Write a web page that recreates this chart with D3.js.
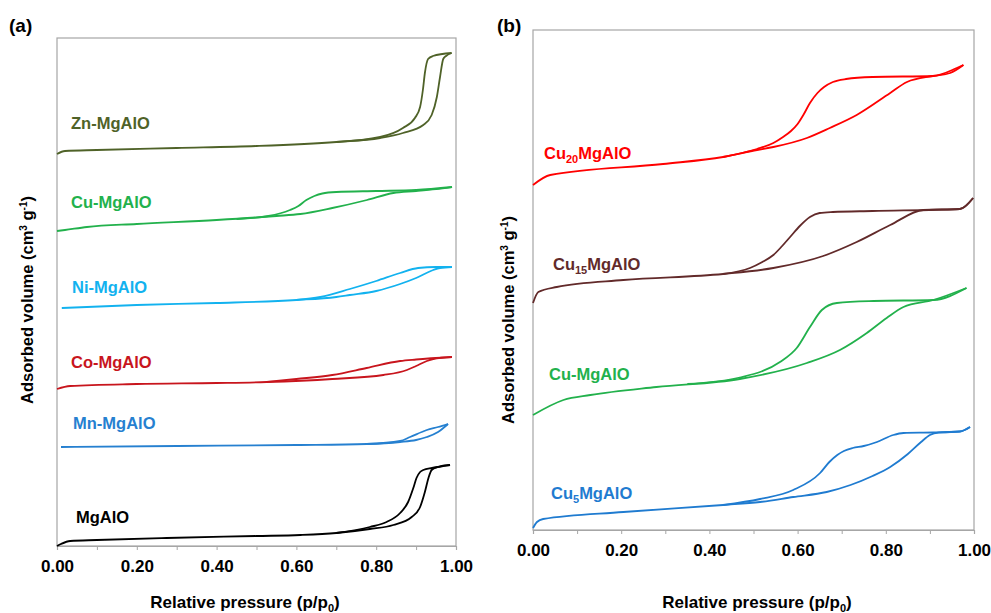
<!DOCTYPE html>
<html>
<head>
<meta charset="utf-8">
<script src="https://cdn.jsdelivr.net/npm/d3@7"></script>
<style>
	body { margin: 0; background: #fff; }
	text { font-family: "Liberation Sans", Arial, sans-serif; font-weight: bold; }
</style>
</head>
<body>
<div id="chart"></div>
<script>
// Tick values shared by both panels (relative pressure p/p0)
var pressureTicks = [0, 0.1, 0.2, 0.3, 0.4, 0.5, 0.6, 0.7, 0.8, 0.9, 1.0];
var pressureLabels = ['0.00', '', '0.20', '', '0.40', '', '0.60', '', '0.80', '', '1.00'];

// Panel (a): isotherms, [p/p0, adsorbed volume (arbitrary offset units)]
var znAds = [[0, 392], [0.02, 395], [0.1, 396], [0.3, 398], [0.5, 400], [0.7, 404], [0.81, 408], [0.867, 413], [0.918, 421], [0.939, 431], [0.952, 449], [0.96, 469], [0.968, 487], [0.975, 490], [0.989, 493]];
var znDes = [[0.7, 404], [0.81, 409], [0.867, 418], [0.897, 428], [0.91, 439], [0.917, 456], [0.922, 473], [0.93, 487], [0.942, 490], [0.989, 493]];
var cuAdsA = [[0, 315], [0.02, 316], [0.075, 319], [0.2, 322], [0.4, 326], [0.55, 330], [0.61, 332], [0.69, 338], [0.777, 346], [0.843, 353], [0.9, 355], [0.95, 357], [0.99, 359]];
var cuDesA = [[0.45, 327], [0.53, 330], [0.584, 336], [0.605, 340], [0.625, 346], [0.645, 350], [0.665, 352.5], [0.7, 354], [0.8, 355], [0.9, 356], [0.99, 359]];
var niAds = [[0.012, 238], [0.2, 241], [0.4, 243], [0.6, 246], [0.7, 249], [0.734, 251], [0.8, 255], [0.86, 262], [0.9, 268], [0.943, 276], [0.96, 278], [0.99, 279]];
var niDes = [[0.6, 246], [0.66, 249], [0.734, 257], [0.8, 265], [0.86, 273], [0.905, 278], [0.95, 279], [0.99, 279]];
var coAds = [[0, 157], [0.033, 160], [0.2, 162], [0.4, 163], [0.525, 164], [0.69, 167], [0.818, 171], [0.877, 176], [0.9, 180], [0.927, 185], [0.943, 187], [0.99, 189]];
var coDes = [[0.525, 164], [0.6, 167], [0.69, 171], [0.776, 178], [0.86, 185], [0.9, 186.5], [0.99, 189]];
var mnAds = [[0.01, 99], [0.3, 100], [0.6, 101], [0.776, 102], [0.86, 104], [0.9, 106], [0.927, 109], [0.955, 114], [0.98, 122]];
var mnDes = [[0.776, 102], [0.86, 105], [0.885, 109], [0.927, 116], [0.955, 119], [0.98, 122]];
var mgAds = [[0, 0], [0.01, 2], [0.033, 5], [0.1, 6], [0.275, 8], [0.5, 10], [0.61, 11], [0.7, 13], [0.784, 17], [0.843, 21], [0.889, 29], [0.91, 39], [0.922, 54], [0.931, 68], [0.939, 76], [0.955, 79], [0.985, 81]];
var mgDes = [[0.7, 13], [0.784, 19], [0.826, 24], [0.86, 33], [0.88, 44], [0.893, 58], [0.901, 68], [0.91, 74], [0.918, 76], [0.94, 78], [0.985, 81]];

// Panel (b)
var cu20Ads = [[0, 345], [0.039, 355], [0.295, 366], [0.431, 373], [0.508, 380], [0.545, 383], [0.621, 392], [0.673, 402], [0.734, 415], [0.81, 437], [0.848, 448], [0.907, 454], [0.946, 457], [0.976, 465]];
var cu20Des = [[0.431, 373], [0.508, 381], [0.545, 387], [0.567, 393], [0.585, 399], [0.6, 406], [0.613, 415], [0.628, 427], [0.645, 437], [0.66, 443], [0.68, 448], [0.71, 451], [0.77, 453], [0.907, 454], [0.961, 462], [0.976, 465]];
var cu15Ads = [[0, 227], [0.012, 238], [0.054, 243], [0.205, 250], [0.431, 256], [0.545, 262], [0.658, 274], [0.734, 288], [0.81, 305], [0.885, 320], [0.968, 321], [0.998, 332]];
var cu15Des = [[0.431, 256], [0.492, 262], [0.52, 268], [0.545, 275], [0.565, 284], [0.583, 293], [0.605, 304], [0.628, 313], [0.65, 317], [0.68, 318], [0.77, 319], [0.968, 321], [0.998, 332]];
var cuAdsB = [[0, 115], [0.069, 130], [0.13, 135], [0.28, 143], [0.469, 151], [0.621, 167], [0.696, 180], [0.757, 197], [0.802, 212], [0.84, 223], [0.908, 230], [0.983, 242]];
var cuDesB = [[0.35, 146], [0.469, 152.5], [0.56, 168], [0.598, 182], [0.628, 203], [0.655, 220], [0.689, 227], [0.772, 229], [0.908, 230], [0.983, 242]];
var cu5Ads = [[0, 2], [0.009, 8], [0.023, 11], [0.205, 18], [0.431, 25], [0.515, 28], [0.59, 33], [0.666, 38], [0.72, 45], [0.77, 54], [0.81, 63], [0.85, 76], [0.88, 88], [0.9, 95], [0.92, 97.5], [0.968, 98.5], [0.991, 103]];
var cu5Des = [[0.431, 25], [0.515, 31], [0.59, 40], [0.651, 57], [0.672, 68], [0.69, 75], [0.705, 79], [0.725, 82], [0.75, 84], [0.78, 88], [0.817, 95], [0.84, 97], [0.907, 97.5], [0.968, 98.5], [0.991, 103]];

var svg = d3.select('#chart')
	.append('svg')
	.attr('width', 991)
	.attr('height', 613);

var panels = [
	{
		tag: '(a)', tagX: 9, tagY: 32,
		left: 57, top: 38, width: 399, height: 508, yMax: 508,
		titleX: 245, yTitleX: 27, yTitleY: 300,
		series: [
			{ ads: znAds, des: znDes, color: '#4f6228', label: [['Zn-MgAlO']], lx: 71, ly: 133 },
			{ ads: cuAdsA, des: cuDesA, color: '#22b14c', label: [['Cu-MgAlO']], lx: 71, ly: 212 },
			{ ads: niAds, des: niDes, color: '#12b2ef', label: [['Ni-MgAlO']], lx: 72, ly: 297 },
			{ ads: coAds, des: coDes, color: '#c8151d', label: [['Co-MgAlO']], lx: 71, ly: 372 },
			{ ads: mnAds, des: mnDes, color: '#2680d0', label: [['Mn-MgAlO']], lx: 73, ly: 433 },
			{ ads: mgAds, des: mgDes, color: '#000000', label: [['MgAlO']], lx: 76, ly: 527 }
		]
	},
	{
		tag: '(b)', tagX: 497, tagY: 32,
		left: 533, top: 30, width: 441, height: 500, yMax: 500,
		titleX: 757, yTitleX: 508, yTitleY: 320,
		series: [
			{ ads: cu20Ads, des: cu20Des, color: '#ff0000', label: [['Cu'], ['20', 1], ['MgAlO']], lx: 544, ly: 163 },
			{ ads: cu15Ads, des: cu15Des, color: '#622a2a', label: [['Cu'], ['15', 1], ['MgAlO']], lx: 553, ly: 274 },
			{ ads: cuAdsB, des: cuDesB, color: '#22b14c', label: [['Cu-MgAlO']], lx: 549, ly: 384 },
			{ ads: cu5Ads, des: cu5Des, color: '#1f7bd0', label: [['Cu'], ['5', 1], ['MgAlO']], lx: 551, ly: 503 }
		]
	}
];

function drawPanel(p) {
	var xScale = d3.scaleLinear().domain([0, 1]).range([p.left, p.left + p.width]);
	var yScale = d3.scaleLinear().domain([0, p.yMax]).range([p.top + p.height, p.top]);

	// Frame
	svg.append('rect')
		.attr('x', p.left).attr('y', p.top)
		.attr('width', p.width).attr('height', p.height)
		.attr('fill', 'none').attr('stroke', '#a6a6a6').attr('stroke-width', 1.2);

	// X axis
	var axis = svg.append('g')
		.attr('transform', 'translate(0,' + (p.top + p.height) + ')')
		.call(d3.axisBottom(xScale)
			.tickValues(pressureTicks)
			.tickSize(4)
			.tickFormat(function(d, i) { return pressureLabels[i]; }));
	axis.select('.domain').attr('stroke', '#a6a6a6').attr('stroke-width', 1.2);
	axis.selectAll('.tick line').attr('stroke', '#a6a6a6');
	axis.selectAll('.tick text')
		.attr('y', 14)
		.attr('fill', '#000')
		.style('font-size', '17px')
		.style('font-family', '"Liberation Sans", Arial, sans-serif')
		.style('font-weight', 'bold');

	// Isotherm branches
	var line = d3.line()
		.x(function(d) { return xScale(d[0]); })
		.y(function(d) { return yScale(d[1]); })
		.curve(d3.curveMonotoneX);

	p.series.forEach(function(s) {
		[s.ads, s.des].forEach(function(branch) {
			svg.append('path')
				.datum(branch)
				.attr('d', line)
				.attr('fill', 'none')
				.attr('stroke', s.color)
				.attr('stroke-width', 1.8)
				.attr('stroke-linejoin', 'round');
		});

		var t = svg.append('text')
			.attr('x', s.lx).attr('y', s.ly)
			.attr('fill', s.color)
			.style('font-size', '16.5px');
		s.label.forEach(function(part) {
			if (part[1]) {
				t.append('tspan').text(part[0]).attr('dy', 4).style('font-size', '11px');
			} else {
				t.append('tspan').text(part[0]).attr('dy', t.selectAll('tspan').size() ? -4 : 0);
			}
		});
	});

	// Panel tag
	svg.append('text')
		.attr('x', p.tagX).attr('y', p.tagY)
		.style('font-size', '19px')
		.text(p.tag);

	// X title
	var xt = svg.append('text')
		.attr('x', p.titleX).attr('y', 608)
		.attr('text-anchor', 'middle')
		.style('font-size', '17px');
	xt.append('tspan').text('Relative pressure (p/p');
	xt.append('tspan').text('0').attr('dy', 4).style('font-size', '11px');
	xt.append('tspan').text(')').attr('dy', -4);

	// Y title
	var yt = svg.append('text')
		.attr('transform', 'translate(' + (p.yTitleX + 6) + ',' + p.yTitleY + ') rotate(-90)')
		.attr('text-anchor', 'middle')
		.style('font-size', '16.5px');
	yt.append('tspan').text('Adsorbed volume (cm');
	yt.append('tspan').text('3').attr('dy', -6).style('font-size', '10px');
	yt.append('tspan').text(' g').attr('dy', 6);
	yt.append('tspan').text('-1').attr('dy', -6).style('font-size', '10px');
	yt.append('tspan').text(')').attr('dy', 6);
}

panels.forEach(drawPanel);
</script>
</body>
</html>
